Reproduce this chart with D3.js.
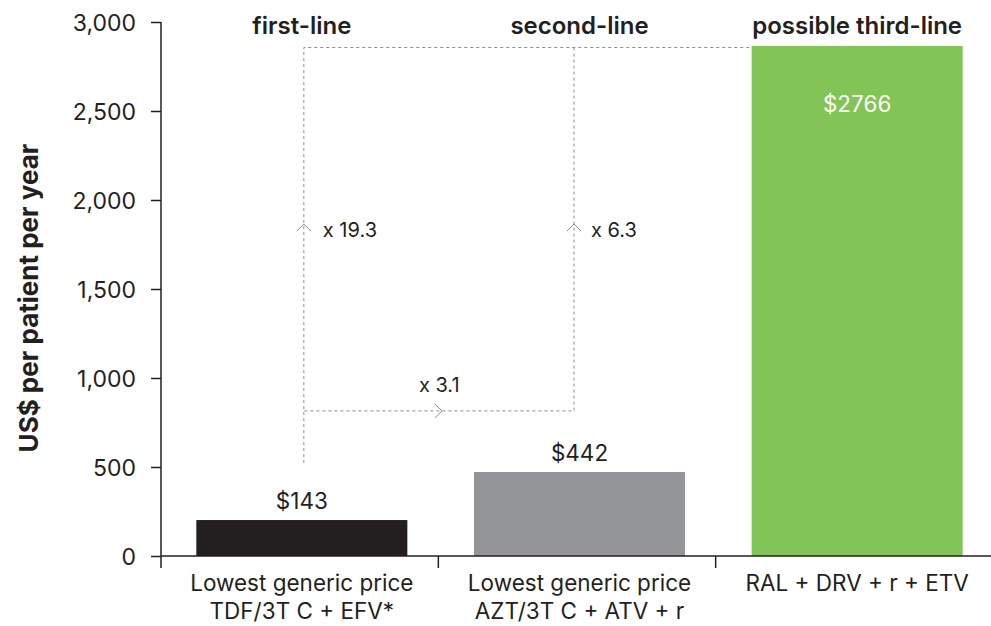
<!DOCTYPE html>
<html><head><meta charset="utf-8">
<script src="https://cdn.jsdelivr.net/npm/d3@7"></script>
<style>body{margin:0;background:#fff}svg{display:block}text{font-family:Inter,"Open Sans",sans-serif;fill:#231f20}</style>
</head><body><svg id="c" width="991" height="626"></svg>
<script>
const categories = ["first-line", "second-line", "possible third-line"];
const catLabels = [["Lowest generic price", "TDF/3T C + EFV*"], ["Lowest generic price", "AZT/3T C + ATV + r"], ["RAL + DRV + r + ETV"]];
const barValues = [202, 472, 2865];
const valueLabels = ["$143", "$442", "$2766"];
const colors = ["#231f20", "#939598", "#82c455"];
const yTicks = [0, 500, 1000, 1500, 2000, 2500, 3000];
const multipliers = ["x 19.3", "x 6.3", "x 3.1"];
const annoLevels = {low: 522, mid: 815, arrow: 1837};

const svg = d3.select("#c");
const W = 991;
const m = {left: 161};
const x = d3.scaleBand().domain(categories).range([m.left + 2, 996]).paddingInner(0.24).paddingOuter(0.12);
const xb = d3.scaleBand().domain(categories).range([m.left, 993]).padding(0);
const y = d3.scaleLinear().domain([0, 3000]).range([556, 22]);
const cxOf = i => x(categories[i]) + x.bandwidth() / 2;

// bars
svg.selectAll("rect.bar").data(categories).join("rect")
  .attr("x", d => x(d)).attr("width", x.bandwidth())
  .attr("y", (d, i) => y(barValues[i])).attr("height", (d, i) => y(0) - y(barValues[i]))
  .attr("fill", (d, i) => colors[i]);

// y axis
const ya = d3.axisLeft(y).tickValues(yTicks).tickFormat(d3.format(",")).tickSize(10).tickSizeOuter(0).tickPadding(15);
const gy = svg.append("g").attr("transform", `translate(${m.left},0)`).call(ya);
gy.select(".domain").remove();
gy.selectAll("line").attr("stroke", "#231f20").attr("stroke-width", 1.5);
gy.selectAll("text").attr("font-size", 23).attr("font-family", "Inter").style("fill", "#231f20").attr("dy", "0.36em");
svg.append("line").attr("x1", m.left).attr("x2", m.left).attr("y1", y(3000)).attr("y2", y(0) + 12)
  .attr("stroke", "#231f20").attr("stroke-width", 1.5);
// x axis
svg.append("line").attr("x1", m.left).attr("x2", W).attr("y1", y(0)).attr("y2", y(0))
  .attr("stroke", "#231f20").attr("stroke-width", 1.5);
svg.selectAll("line.sep").data(categories.slice(1)).join("line")
  .attr("x1", d => xb(d)).attr("x2", d => xb(d)).attr("y1", y(0)).attr("y2", y(0) + 12)
  .attr("stroke", "#231f20").attr("stroke-width", 1.5);

// category labels
catLabels.forEach((lines, i) => {
  lines.forEach((t, j) => {
    svg.append("text").attr("x", cxOf(i)).attr("y", 591 + j * 28).attr("text-anchor", "middle")
      .attr("font-size", 22.5).text(t);
  });
});

// headers
svg.selectAll("text.hdr").data(categories).join("text")
  .attr("x", (d, i) => cxOf(i)).attr("y", 34).attr("text-anchor", "middle")
  .attr("font-size", 24).attr("font-weight", 600).text(d => d);

// value labels
valueLabels.forEach((t, i) => {
  const inside = i === 2;
  svg.append("text").attr("x", cxOf(i)).attr("y", inside ? y(barValues[i]) + 66 : y(barValues[i]) - 11)
    .attr("text-anchor", "middle").attr("font-size", 22.5)
    .style("fill", inside ? "#fff" : "#231f20").text(t);
});

// annotation lines
const cx0 = cxOf(0) + 2;
const cx1 = cxOf(1) - 5.5;
const topY = y(barValues[2]) + 1.5;
const dash = g => g.attr("fill", "none").attr("stroke", "#8a8c8e").attr("stroke-width", 1).attr("stroke-dasharray", "3,3");
svg.append("path").attr("d", `M${cx0},${y(annoLevels.low)}V${topY}H${x(categories[2])}`).call(dash);
svg.append("path").attr("d", `M${cx1},${topY}V${y(annoLevels.mid)}H${cx0}`).call(dash);
const chev = (px, py, dir) => {
  const s = 7;
  const d = dir === "up" ? `M${px - s},${py + s}L${px},${py}L${px + s},${py + s}` : `M${px - s},${py - s}L${px},${py}L${px - s},${py + s}`;
  svg.append("path").attr("d", d).attr("fill", "none").attr("stroke", "#8a8c8e").attr("stroke-width", 1);
};
chev(cx0, y(annoLevels.arrow) - 5, "up");
chev(cx1, y(annoLevels.arrow) - 5, "up");
const midX = (cx0 + cx1) / 2 + 3;
chev(midX, y(annoLevels.mid), "right");
svg.append("text").attr("x", cx0 + 19).attr("y", y(annoLevels.arrow) + 8).attr("font-size", 20).text(multipliers[0]);
svg.append("text").attr("x", cx1 + 17).attr("y", y(annoLevels.arrow) + 8).attr("font-size", 20).text(multipliers[1]);
svg.append("text").attr("x", midX - 23).attr("y", y(annoLevels.mid) - 19).attr("font-size", 20).text(multipliers[2]);

// y title
svg.append("text").attr("transform", `translate(38,${(y(0) + y(3000)) / 2 + 9}) rotate(-90)`)
  .attr("text-anchor", "middle").attr("font-size", 26).attr("font-weight", 700).text("US$ per patient per year");
</script></body></html>
